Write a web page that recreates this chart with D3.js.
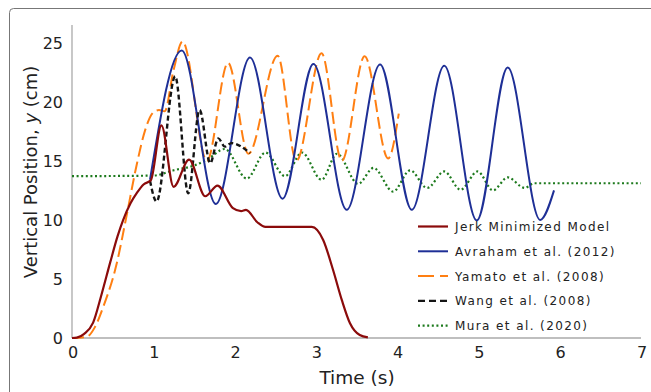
<!DOCTYPE html>
<html>
<head>
<meta charset="utf-8">
<script src="https://cdn.jsdelivr.net/npm/d3@7"></script>
<style>
  body { margin: 0; background: #fff; }
  text { font-family: "DejaVu Sans", Verdana, sans-serif; fill: #222; }
</style>
</head>
<body>
<div id="mainDiv"></div>
<script>
'use strict';

// values (time in s, height in cm)
var xTicks = [0, 1, 2, 3, 4, 5, 6, 7];
var yTicks = [0, 5, 10, 15, 20, 25];

var jerkT = [0, 0.06, 0.15, 0.26, 0.36, 0.47, 0.56, 0.63, 0.72, 0.8, 0.88, 0.97, 1.10, 1.25, 1.44, 1.64, 1.79, 1.98, 2.08, 2.14, 2.28, 2.38, 2.95, 3.09, 3.21, 3.32, 3.42, 3.54, 3.64];
var jerkY = [0, 0.03, 0.35, 1.3, 3.6, 6.4, 8.6, 10, 11.4, 12.3, 13.0, 13.35, 18.0, 12.8, 15.1, 12.0, 12.9, 11.0, 10.75, 10.85, 9.8, 9.4, 9.4, 8.3, 5.8, 3.2, 1.25, 0.25, 0.05];

var avrahamT = [0.96, 1.35, 1.77, 2.19, 2.59, 2.97, 3.38, 3.79, 4.18, 4.58, 4.98, 5.36, 5.76, 5.93];
var avrahamY = [13.4, 24.35, 11.35, 23.75, 11.8, 23.2, 10.85, 23.15, 10.85, 23.05, 9.95, 22.9, 10.0, 12.5];

var yamatoT = [0, 0.18, 0.28, 0.385, 0.55, 0.67, 0.8, 0.9, 1.0, 1.07, 1.14, 1.25, 1.36, 1.66, 1.92, 2.17, 2.53, 2.76, 3.07, 3.32, 3.60, 3.89, 4.02];
var yamatoY = [0, 0.1, 0.9, 2.65, 6.3, 10.3, 14.8, 17.6, 19.1, 19.3, 19.2, 22.7, 25.1, 15.0, 23.3, 15.6, 23.9, 15.0, 24.1, 15.0, 23.85, 15.2, 19.0];

var wangT = [0.96, 1.04, 1.27, 1.43, 1.57, 1.70, 1.80, 1.88, 1.96, 2.19];
var wangY = [13.3, 11.55, 22.15, 12.25, 19.3, 14.8, 16.9, 16.2, 16.5, 15.65];

var muraT = [0, 1.0, 1.25, 1.5, 1.66, 1.88, 2.15, 2.38, 2.62, 2.83, 3.07, 3.26, 3.52, 3.71, 3.95, 4.16, 4.37, 4.58, 4.78, 4.99, 5.18, 5.36, 5.57, 5.68, 7.0];
var muraY = [13.7, 13.75, 14.2, 14.6, 15.1, 16.0, 13.5, 15.7, 13.7, 15.7, 13.4, 15.6, 13.05, 14.4, 12.4, 14.2, 12.7, 14.1, 12.55, 14.1, 12.5, 13.6, 12.7, 13.1, 13.1];

var seriesNames = ['Jerk Minimized Model', 'Avraham et al. (2012)', 'Yamato et al. (2008)', 'Wang et al. (2008)', 'Mura et al. (2020)'];

var myApp = {};

myApp.w = 651;
myApp.h = 392;
myApp.x = d3.scaleLinear().domain([0, 7]).range([72, 641]);
myApp.y = d3.scaleLinear().domain([0, 26.5]).range([338, 25]);

myApp.styles = [
    {color: '#8b0b0b', width: 2.2, dash: null,   legendDash: null},
    {color: '#1e2f96', width: 2,   dash: null,   legendDash: null},
    {color: '#ff7f12', width: 2,   dash: '12,5', legendDash: '16,6'},
    {color: '#151515', width: 2.4, dash: '5,3',  legendDash: '7,4'},
    {color: '#1d7a1d', width: 2.2, dash: '2,2.6', legendDash: '2,2.6'}
];

myApp.zip = function(ts, ys)
{
    return ts.map(function(t, i) { return {t: t, v: ys[i]}; });
}

myApp.run = function()
{
    var x = myApp.x, y = myApp.y;
    var svg = d3.select('#mainDiv').append('svg')
        .attr('width', myApp.w)
        .attr('height', myApp.h);

    // outer frame of the figure (cut off at right and bottom)
    svg.append('rect')
        .attr('x', 9.5).attr('y', 8.5)
        .attr('width', 700).attr('height', 500)
        .attr('rx', 4)
        .attr('fill', 'none')
        .attr('stroke', '#777')
        .attr('stroke-width', 1);

    // axes
    svg.append('line')
        .attr('x1', x(0)).attr('x2', x(7))
        .attr('y1', y(0)).attr('y2', y(0))
        .attr('stroke', '#aaa').attr('stroke-width', 1.3);
    svg.append('line')
        .attr('x1', x(0)).attr('x2', x(0))
        .attr('y1', y(0)).attr('y2', y(26.5))
        .attr('stroke', '#aaa').attr('stroke-width', 1.3);

    svg.selectAll('.xt').data(xTicks).enter().append('text')
        .attr('x', function(d) { return x(d) + 1; })
        .attr('y', 358)
        .attr('text-anchor', 'middle')
        .style('font-size', '16px')
        .text(function(d) { return d; });

    svg.selectAll('.yt').data(yTicks).enter().append('text')
        .attr('x', 63)
        .attr('y', function(d) { return y(d) + 6; })
        .attr('text-anchor', 'end')
        .style('font-size', '16px')
        .text(function(d) { return d; });

    svg.append('text')
        .attr('x', 357).attr('y', 384)
        .attr('text-anchor', 'middle')
        .style('font-size', '18.5px')
        .text('Time (s)');

    var yl = svg.append('text')
        .attr('transform', 'translate(37,172) rotate(-90)')
        .attr('text-anchor', 'middle')
        .style('font-size', '18px');
    yl.append('tspan').text('Vertical Position, ');
    yl.append('tspan').style('font-style', 'italic').text('y');
    yl.append('tspan').text(' (cm)');

    var data = [
        myApp.zip(jerkT, jerkY),
        myApp.zip(avrahamT, avrahamY),
        myApp.zip(yamatoT, yamatoY),
        myApp.zip(wangT, wangY),
        myApp.zip(muraT, muraY)
    ];

    var line = d3.line()
        .x(function(d) { return x(d.t); })
        .y(function(d) { return y(d.v); })
        .curve(d3.curveMonotoneX);

    // draw order: green underneath, red on top of the rest
    [4, 2, 1, 3, 0].forEach(function(i) {
        var s = myApp.styles[i];
        svg.append('path')
            .attr('d', line(data[i]))
            .attr('fill', 'none')
            .attr('stroke', s.color)
            .attr('stroke-width', s.width)
            .attr('stroke-dasharray', s.dash);
    });

    // legend
    var lg = svg.selectAll('.lg').data(seriesNames).enter().append('g')
        .attr('transform', function(d, i) { return 'translate(418,' + (226.5 + i * 24.8) + ')'; });
    lg.append('line')
        .attr('x1', 0).attr('x2', 30)
        .attr('stroke', function(d, i) { return myApp.styles[i].color; })
        .attr('stroke-width', function(d, i) { return myApp.styles[i].width; })
        .attr('stroke-dasharray', function(d, i) { return myApp.styles[i].legendDash; });
    lg.append('text')
        .attr('x', 37).attr('y', 4.5)
        .style('font-size', '12px')
        .style('letter-spacing', '1.4px')
        .text(function(d) { return d; });
}

window.onload = myApp.run;
</script>
</body>
</html>
